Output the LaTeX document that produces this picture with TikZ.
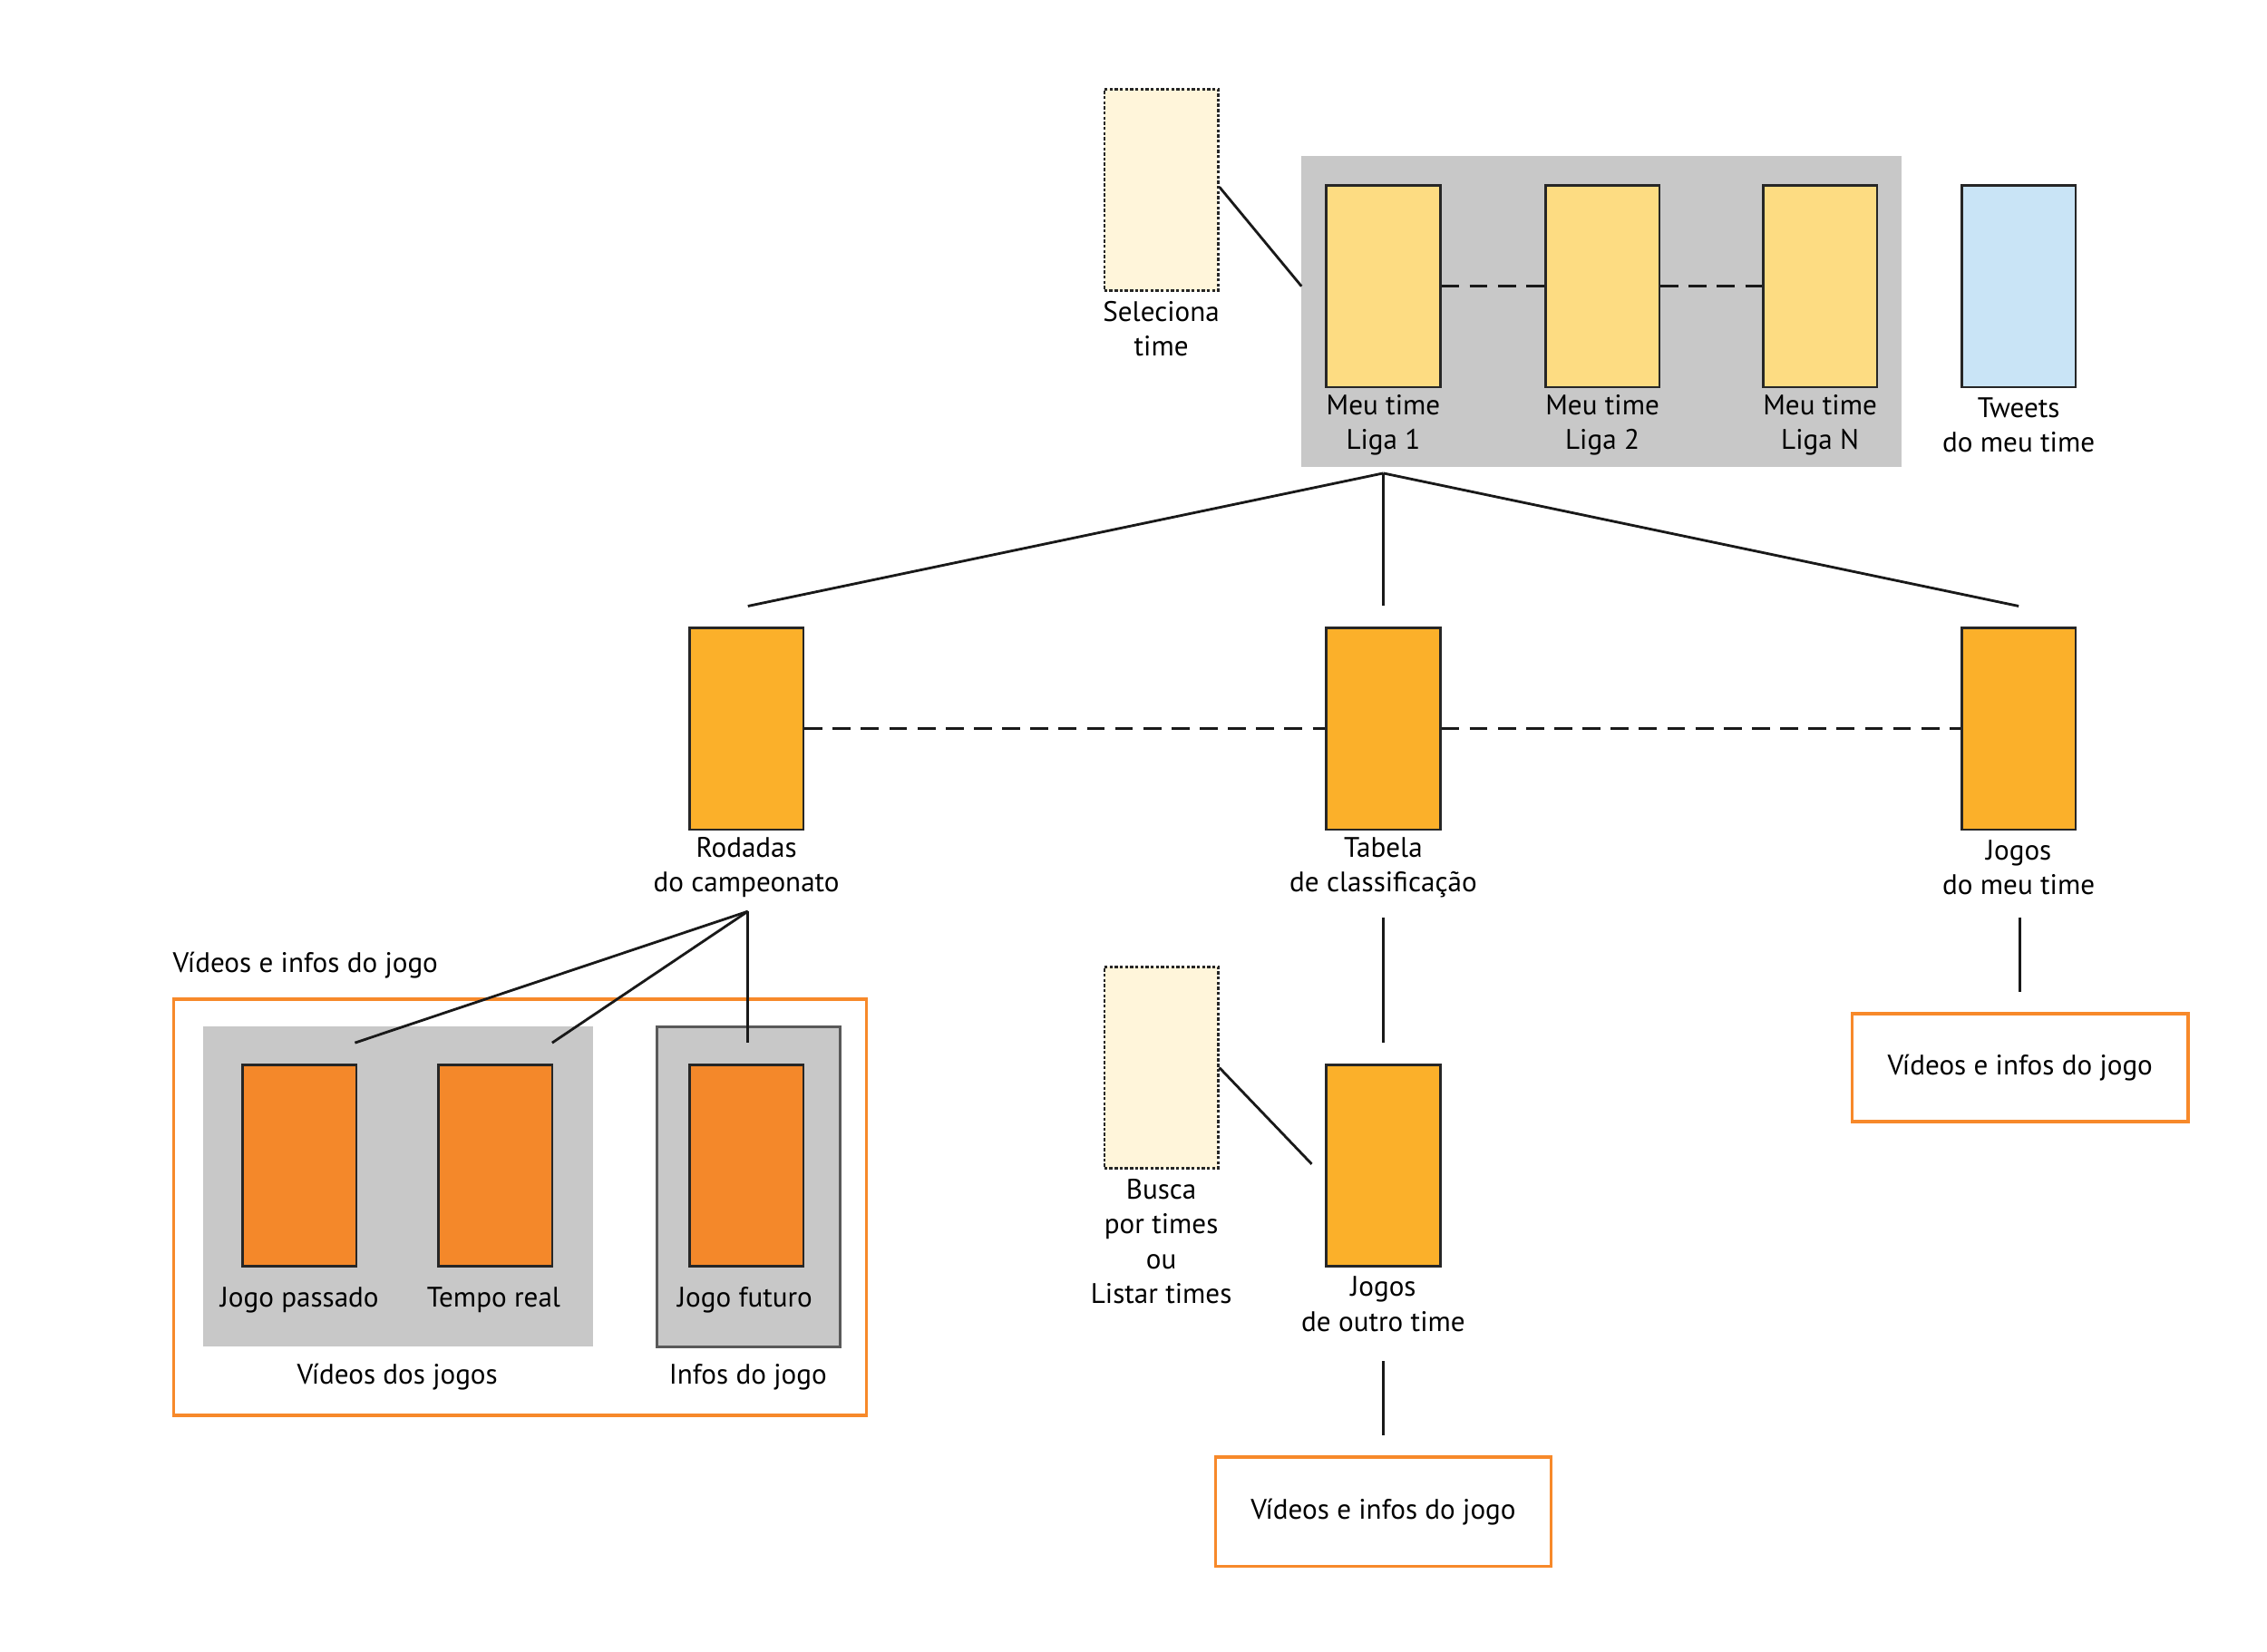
\documentclass[tikz,border=0pt]{standalone}
\usepackage{fontspec}
\setmainfont{PT Sans}
\usetikzlibrary{positioning}
\definecolor{cream}{HTML}{FFF5DA}
\definecolor{paleyellow}{HTML}{FDDC82}
\definecolor{paleblue}{HTML}{C9E4F6}
\definecolor{midorange}{HTML}{FBB02A}
\definecolor{deeporange}{HTML}{F4882A}
\definecolor{panelgray}{HTML}{C8C8C8}
\definecolor{frameorange}{HTML}{F7892A}
\tikzset{
  page/.style={draw=black!85,line width=0.9pt,minimum width=1.56cm,minimum height=2.76cm,inner sep=0pt},
  draft/.style={page,fill=cream,dashed,dash pattern=on 1.2pt off 0.8pt},
  txt/.style={align=center,font=\fontsize{11}{13.6}\selectfont,inner sep=0pt},
  frame/.style={draw=frameorange,line width=1.2pt},
  link/.style={line width=1pt,black!90},
  dlink/.style={link,dash pattern=on 7pt off 4pt}
}
\begin{document}
\begin{tikzpicture}[x=0.02cm,y=-0.02cm]
\useasboundingbox (0,0) rectangle (1552,1131);

% top row
\fill[panelgray] (891,107) rectangle (1302,320);
\node[draft] (sel) at (795,130) {};
\node[txt] (sellbl) at (795,225) {Seleciona\\time};
\node[page,fill=paleyellow] (liga1) at (947,196) {};
\node[page,fill=paleyellow] (liga2) at (1097,196) {};
\node[page,fill=paleyellow] (ligan) at (1246,196) {};
\node[page,fill=paleblue] (tweets) at (1382,196) {};
\node[txt] at (947,291) {Meu time\\Liga 1};
\node[txt] at (1097,291) {Meu time\\Liga 2};
\node[txt] at (1246,291) {Meu time\\Liga N};
\node[txt] at (1382,291) {Tweets\\do meu time};
\coordinate (panelL) at (891,196);
\draw[link] (sel.east) ++(0,-2) -- (panelL);
\draw[dlink] (liga1) -- (liga2);
\draw[dlink] (liga2) -- (ligan);

% second row
\coordinate (hub) at (947,324);
\coordinate (toRod) at (512,415);
\coordinate (toTab) at (947,415);
\coordinate (toJog) at (1382,415);
\draw[link] (hub) -- (toRod);
\draw[link] (hub) -- (toTab);
\draw[link] (hub) -- (toJog);
\node[page,fill=midorange] (rod) at (511,499) {};
\node[page,fill=midorange] (tab) at (947,499) {};
\node[page,fill=midorange] (jmeu) at (1382,499) {};
\draw[dlink] (rod) -- (tab);
\draw[dlink] (tab) -- (jmeu);
\node[txt] at (511,594) {Rodadas\\do campeonato};
\node[txt] at (947,594) {Tabela\\de classificação};
\node[txt] at (1382,594) {Jogos\\do meu time};

% left group
\node[txt,anchor=west] at (118,661) {Vídeos e infos do jogo};
\draw[frame] (119,684) rectangle (593,969);
\fill[panelgray] (139,703) rectangle (406,922);
\filldraw[fill=panelgray,draw=black!65,line width=1pt] (450,703) rectangle (575,922);
\node[page,fill=deeporange] (passado) at (205,798) {};
\node[page,fill=deeporange] (real) at (339,798) {};
\node[page,fill=deeporange] (futuro) at (511,798) {};
\node[txt] at (205,890) {Jogo passado};
\node[txt] at (338,890) {Tempo real};
\node[txt] at (510,890) {Jogo futuro};
\node[txt] at (272,943) {Vídeos dos jogos};
\node[txt] at (512,943) {Infos do jogo};
\coordinate (rodB) at (512,624);
\coordinate (toPas) at (243,714);
\coordinate (toReal) at (378,714);
\coordinate (toFut) at (512,714);
\draw[link] (rodB) -- (toPas);
\draw[link] (rodB) -- (toReal);
\draw[link] (rodB) -- (toFut);

% middle branch
\coordinate (tabB) at (947,628);
\coordinate (toOutro) at (947,714);
\draw[link] (tabB) -- (toOutro);
\node[draft] (busca) at (795,731) {};
\node[txt] at (795,850) {Busca\\por times\\ou\\Listar times};
\node[page,fill=midorange] (outro) at (947,798) {};
\node[txt] at (947,893) {Jogos\\de outro time};
\coordinate (toOutroL) at (898,797);
\draw[link] (busca.east) -- (toOutroL);
\coordinate (outroB) at (947,932);
\coordinate (toVid2) at (947,983);
\draw[link] (outroB) -- (toVid2);
\node[txt,frame,minimum width=4.6cm,minimum height=1.5cm] (vid2) at (947,1035) {Vídeos e infos do jogo};

% right branch
\coordinate (jmeuB) at (1383,628);
\coordinate (toVid3) at (1383,679);
\draw[link] (jmeuB) -- (toVid3);
\node[txt,frame,minimum width=4.6cm,minimum height=1.48cm] (vid3) at (1383,731) {Vídeos e infos do jogo};
\end{tikzpicture}
\end{document}
